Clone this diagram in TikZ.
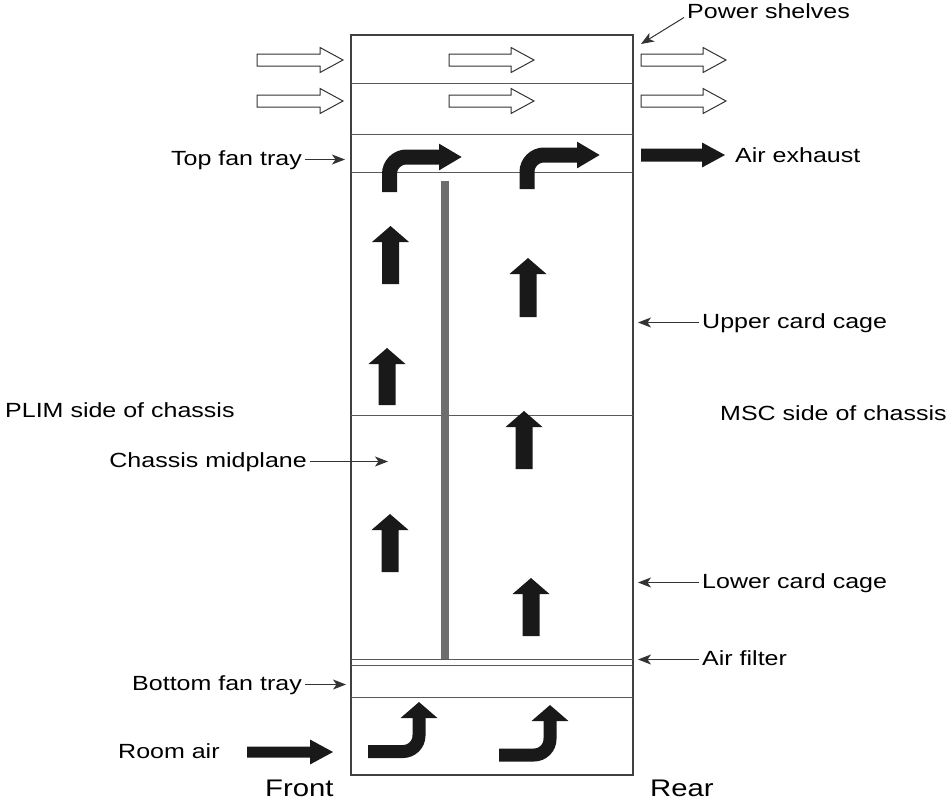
\documentclass[tikz,border=0pt]{standalone}
\usepackage{fontspec}
\setmainfont{Liberation Sans}[FakeStretch=1.22]
\usetikzlibrary{arrows.meta}
\usetikzlibrary{positioning}

% block arrow pointing right: [style] x tail, x tip, y, half shaft
\newcommand{\flowright}[5][]{%
  \draw[#1] (#2,#4-#5) -- (#3-23,#4-#5) -- (#3-23,#4-12.5) -- (#3,#4)
    -- (#3-23,#4+12.5) -- (#3-23,#4+#5) -- (#2,#4+#5) -- cycle;}
% block arrow pointing up: x, y tip, y tail
\newcommand{\flowup}[3]{%
  \fill[black!90] (#1-8.5,#3) -- (#1-8.5,#2+16) -- (#1-18.5,#2+16) -- (#1,#2)
    -- (#1+18.5,#2+16) -- (#1+8.5,#2+16) -- (#1+8.5,#3) -- cycle;}

\begin{document}
\begin{tikzpicture}[x=1pt, y=-1pt,
    lbl/.style={font=\fontsize{20.5}{24}\selectfont, inner xsep=3pt, inner ysep=1pt, text height=15pt, text depth=4pt},
    big/.style={lbl, font=\fontsize{24}{28}\selectfont, inner ysep=0pt, text height=17pt, text depth=0pt},
    ptr/.style={draw=black!80, line width=1pt, -{Stealth[length=13pt,width=10pt,inset=3.5pt]}},
    rack/.style={draw=black!75, line width=1.2pt},
    shelf/.style={draw=black!65, line width=1pt},
    hollow/.style={draw=black!80, line width=1pt, fill=white},
    blk/.style={draw=none, fill=black!90},
    bent/.style={draw=black!90, line width=15pt, rounded corners=17pt, -{Triangle[length=23pt,width=25pt]}},
    lowbent/.style={draw=black!90, line width=13pt, rounded corners=16pt, -{Triangle[length=16pt,width=36pt]}}]
    \useasboundingbox (0,0) rectangle (951,801);

    % chassis
    \draw[rack] (351,35) rectangle (633,775);
    \foreach \y in {83.5, 134, 172, 415, 659, 665, 697}
        \draw[shelf] (351,\y) -- (633,\y);
    \fill[black!57] (441,181) rectangle (449,659);

    % power shelves
    \foreach \y in {60, 101} {
        \flowright[hollow]{257}{343}{\y}{6}
        \flowright[hollow]{449}{534}{\y}{6}
        \flowright[hollow]{641}{726}{\y}{6}
    }

    % air flow
    \flowright[blk]{641}{725}{155}{6.5}
    \flowright[blk]{247}{333}{752}{5.5}
    \draw[bent] (389.5,192) -- (389.5,157) -- (462,157);
    \draw[bent] (527,189) -- (527,155) -- (600,155);
    \draw[lowbent] (368,751.5) -- (419,751.5) -- (419,702);
    \draw[lowbent] (499,755) -- (550,755) -- (550,705);
    \flowup{390.5}{226}{284}
    \flowup{387}{348}{405}
    \flowup{390}{514}{572}
    \flowup{528}{258}{317}
    \flowup{524}{411}{469}
    \flowup{531}{578}{636}

    % labels
    \node[lbl, anchor=base west] (power) at (684,18) {Power shelves};
    \node[lbl, anchor=base west] (exhaust) at (732,162) {Air exhaust};
    \node[lbl, anchor=base east] (toptray) at (305,165) {Top fan tray};
    \node[lbl, anchor=base west] (upper) at (699,328) {Upper card cage};
    \node[lbl, anchor=base west] (plim) at (2,417) {PLIM side of chassis};
    \node[lbl, anchor=base west] (msc) at (717,420) {MSC side of chassis};
    \node[lbl, anchor=base east] (midplane) at (310,467) {Chassis midplane};
    \node[lbl, anchor=base west] (lower) at (699,588) {Lower card cage};
    \node[lbl, anchor=base west] (filter) at (699,665) {Air filter};
    \node[lbl, anchor=base east] (bottomtray) at (305,690) {Bottom fan tray};
    \node[lbl, anchor=base west] (room) at (115,758) {Room air};
    \node[big, anchor=base west] (front) at (262,796) {Front};
    \node[big, anchor=base west] (rear) at (647,796) {Rear};

    \coordinate (shelfTip) at (641,44);
    \coordinate (fanTip) at (345,159.5);
    \coordinate (midTip) at (388,461.5);
    \coordinate (upperTip) at (638,322.5);
    \coordinate (lowerTip) at (638,582.5);
    \coordinate (filterTip) at (638,659.5);
    \coordinate (bfanTip) at (346,684.5);

    \draw[ptr] ([yshift=-5pt]power.west) -- (shelfTip);
    \draw[ptr] (toptray.east) -- (fanTip);
    \draw[ptr] (midplane.east) -- (midTip);
    \draw[ptr] (upper.west) -- (upperTip);
    \draw[ptr] (lower.west) -- (lowerTip);
    \draw[ptr] (filter.west) -- (filterTip);
    \draw[ptr] (bottomtray.east) -- (bfanTip);
\end{tikzpicture}
\end{document}
